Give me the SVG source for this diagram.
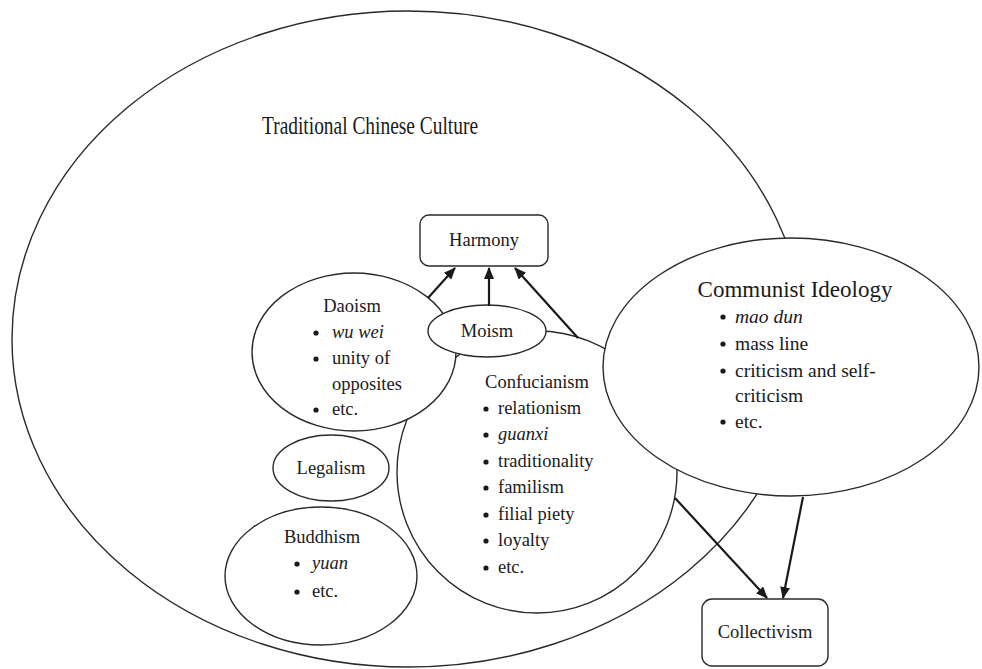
<svg xmlns="http://www.w3.org/2000/svg" width="982" height="669" viewBox="0 0 982 669">
<defs>
<style>
.sh{fill:#fff;stroke:#2a2a2a;stroke-width:1.4}
.t{font-family:"Liberation Serif","Times New Roman",serif;font-size:18.5px;fill:#1a1a1a}
.c{text-anchor:middle}
.i{font-style:italic}
.b{fill:#1a1a1a}
.ci{font-size:19.5px}
.ar{fill:none;stroke:#1a1a1a;stroke-width:2.2}
</style>
<marker id="ah" viewBox="0 0 12 10" refX="11" refY="5" markerWidth="12" markerHeight="10" markerUnits="userSpaceOnUse" orient="auto">
<path d="M0,0 L12,5 L0,10 z" fill="#1a1a1a"/>
</marker>
</defs>
<rect width="982" height="669" fill="#fff"/>

<g id="traditional">
<ellipse class="sh" cx="408" cy="339" rx="396" ry="328"/>
<text class="t" x="262" y="134" style="font-size:25px" textLength="216" lengthAdjust="spacingAndGlyphs">Traditional Chinese Culture</text>
</g>

<g id="confucianism">
<ellipse class="sh" cx="537" cy="472" rx="140" ry="141"/>
<text class="t c" x="537" y="388">Confucianism</text>
<circle class="b" cx="486" cy="409" r="2.6"/><text class="t" x="498" y="414">relationism</text>
<circle class="b" cx="486" cy="435" r="2.6"/><text class="t i" x="498" y="440">guanxi</text>
<circle class="b" cx="486" cy="462" r="2.6"/><text class="t" x="498" y="467">traditionality</text>
<circle class="b" cx="486" cy="488" r="2.6"/><text class="t" x="498" y="493">familism</text>
<circle class="b" cx="486" cy="515" r="2.6"/><text class="t" x="498" y="520">filial piety</text>
<circle class="b" cx="486" cy="541" r="2.6"/><text class="t" x="498" y="546">loyalty</text>
<circle class="b" cx="486" cy="568" r="2.6"/><text class="t" x="498" y="573">etc.</text>
</g>

<g id="daoism">
<ellipse class="sh" cx="354" cy="352" rx="102" ry="79"/>
<text class="t c" x="352" y="312">Daoism</text>
<circle class="b" cx="316" cy="333" r="2.6"/><text class="t i" x="332" y="338">wu wei</text>
<circle class="b" cx="316" cy="359" r="2.6"/><text class="t" x="332" y="364">unity of</text>
<text class="t" x="332" y="390">opposites</text>
<circle class="b" cx="316" cy="410" r="2.6"/><text class="t" x="332" y="415">etc.</text>
</g>

<g id="moism">
<ellipse class="sh" cx="487" cy="331" rx="59" ry="26"/>
<text class="t c" x="487" y="337">Moism</text>
</g>

<g id="legalism">
<ellipse class="sh" cx="331" cy="468" rx="58" ry="33"/>
<text class="t c" x="331" y="474">Legalism</text>
</g>

<g id="buddhism">
<ellipse class="sh" cx="321" cy="576" rx="96" ry="69"/>
<text class="t c" x="322" y="543">Buddhism</text>
<circle class="b" cx="297" cy="564" r="2.6"/><text class="t i" x="312" y="569">yuan</text>
<circle class="b" cx="297" cy="592" r="2.6"/><text class="t" x="312" y="597">etc.</text>
</g>

<g id="communist">
<ellipse class="sh" cx="791" cy="367" rx="188" ry="129"/>
<text class="t c" x="795" y="297" style="font-size:23px">Communist Ideology</text>
<circle class="b" cx="723" cy="317" r="2.6"/><text class="t ci i" x="735" y="323">mao dun</text>
<circle class="b" cx="723" cy="344" r="2.6"/><text class="t ci" x="735" y="350">mass line</text>
<circle class="b" cx="723" cy="371" r="2.6"/><text class="t ci" x="735" y="377">criticism and self-</text>
<text class="t ci" x="735" y="402">criticism</text>
<circle class="b" cx="723" cy="422" r="2.6"/><text class="t ci" x="735" y="428">etc.</text>
</g>

<g id="harmony">
<rect class="sh" x="420" y="215" width="128" height="51" rx="9"/>
<text class="t c" x="484" y="246">Harmony</text>
</g>

<g id="collectivism">
<rect class="sh" x="702" y="599" width="126" height="67" rx="10"/>
<text class="t c" x="765" y="638">Collectivism</text>
</g>

<g id="connectors">
<line class="ar" x1="428" y1="298" x2="455" y2="268" marker-end="url(#ah)"/>
<line class="ar" x1="489" y1="306" x2="489" y2="268" marker-end="url(#ah)"/>
<line class="ar" x1="578" y1="338" x2="515" y2="268" marker-end="url(#ah)"/>
<line class="ar" x1="675" y1="498" x2="767" y2="598" marker-end="url(#ah)"/>
<line class="ar" x1="803" y1="497" x2="783" y2="598" marker-end="url(#ah)"/>
</g>
</svg>
